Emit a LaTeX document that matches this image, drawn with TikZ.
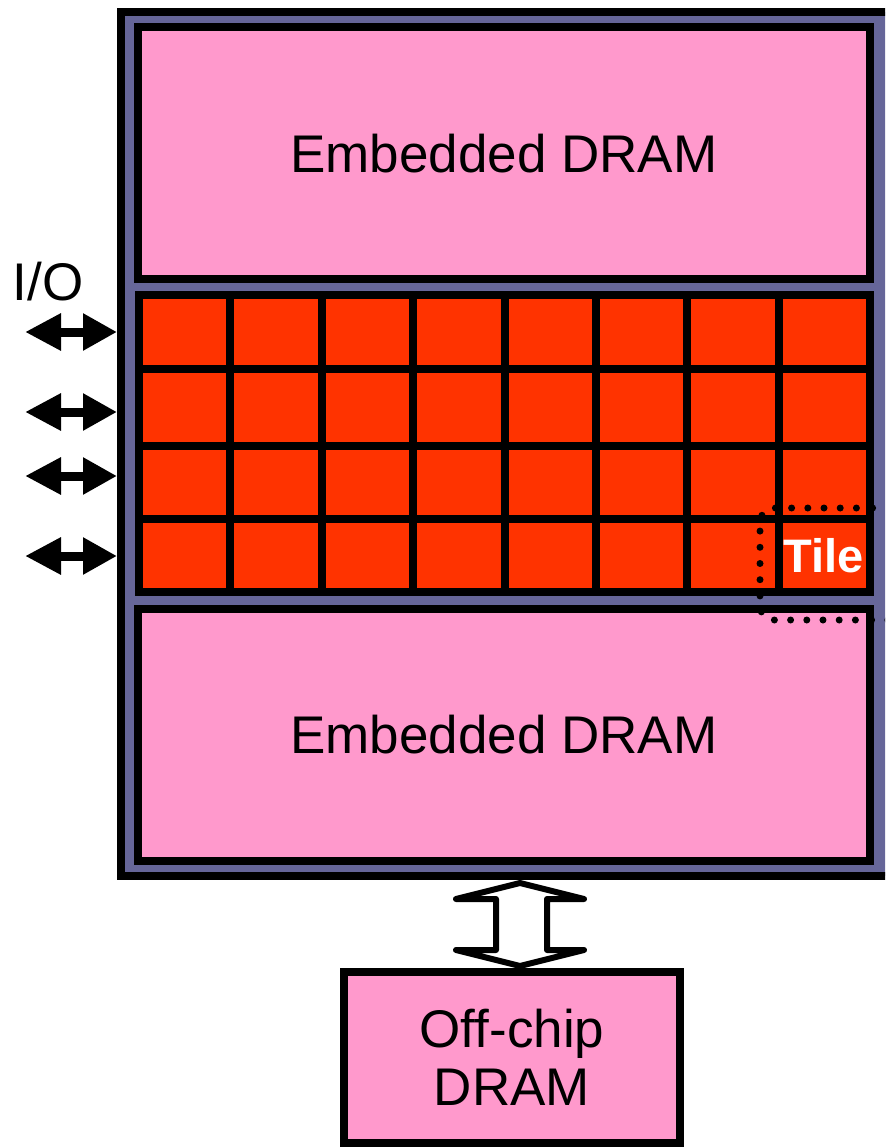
\documentclass[tikz,border=0pt]{standalone}
\usepackage{fontspec}
\setmainfont{Liberation Sans}
\usetikzlibrary{arrows.meta}
\definecolor{pinkfill}{HTML}{FF99CC}
\definecolor{tilered}{HTML}{FF3300}
\definecolor{chippurple}{HTML}{666699}
\begin{document}
\begin{tikzpicture}[x=1pt,y=-1pt,
  box/.style={draw=black, line width=8pt, fill=pinkfill, inner sep=0pt, font=\fontsize{53}{58}\selectfont},
  gridline/.style={draw=black, line width=8pt},
  ioarrow/.style={line width=9pt, {Triangle[length=36pt,width=35pt]}-{Triangle[length=34pt,width=35pt]}},
  tiledots/.style={draw=black, line width=7pt, line cap=round, dash pattern=on 0pt off 16.2pt, rounded corners=14pt},
  bigarrow/.style={draw=black, line width=6pt, fill=white, line join=round}]
\useasboundingbox (0,0) rectangle (885,1147);
\clip (0,0) rectangle (885,1147);
% chip
\node[draw=black, line width=8pt, fill=chippurple, minimum width=771pt, minimum height=864pt, inner sep=0pt] (chip) at (506.5,444) {};
% embedded DRAMs
\node[box, minimum width=732pt, minimum height=252pt] (dramtop) at (504,153.5) {Embedded DRAM};
\node[box, minimum width=732pt, minimum height=252.5pt] (drambot) at (504,734.75) {Embedded DRAM};
% tile array
\node[draw=black, line width=8pt, fill=tilered, minimum width=731pt, minimum height=297pt, inner sep=0pt] (tiles) at (504.5,443.5) {};
\foreach \x in {1,...,7} \draw[gridline] ({139+91.375*\x},295) -- ({139+91.375*\x},592);
\foreach \y in {369,446,519} \draw[gridline] (139,\y) -- (870,\y);
% tile marker
\draw[tiledots] (905,508) -- (760,508) -- (760,620) -- (905,620);
\node[text=white, font=\bfseries\fontsize{47}{50}\selectfont, inner sep=0pt] (tile) at (823.5,556) {Tile};
% I/O
\node[font=\fontsize{53}{58}\selectfont, inner sep=0pt] (iolabel) at (48,282) {I/O};
\foreach \y [count=\i] in {332,412,476,556} {
  \coordinate (io\i) at (25,\y);
  \draw[ioarrow] (io\i) -- (chip.west |- io\i);
}
% off-chip DRAM
\node[box, minimum width=336pt, minimum height=171pt, align=center] (offchip) at (512,1057.5) {Off-chip\\DRAM};
% wide double arrow between chip and off-chip DRAM
\draw[bigarrow] (520,883) -- (456,899) -- (496,899) -- (496,950) -- (456,950) -- (520,966)
  -- (584,950) -- (547,950) -- (547,899) -- (584,899) -- cycle;
\end{tikzpicture}
\end{document}
